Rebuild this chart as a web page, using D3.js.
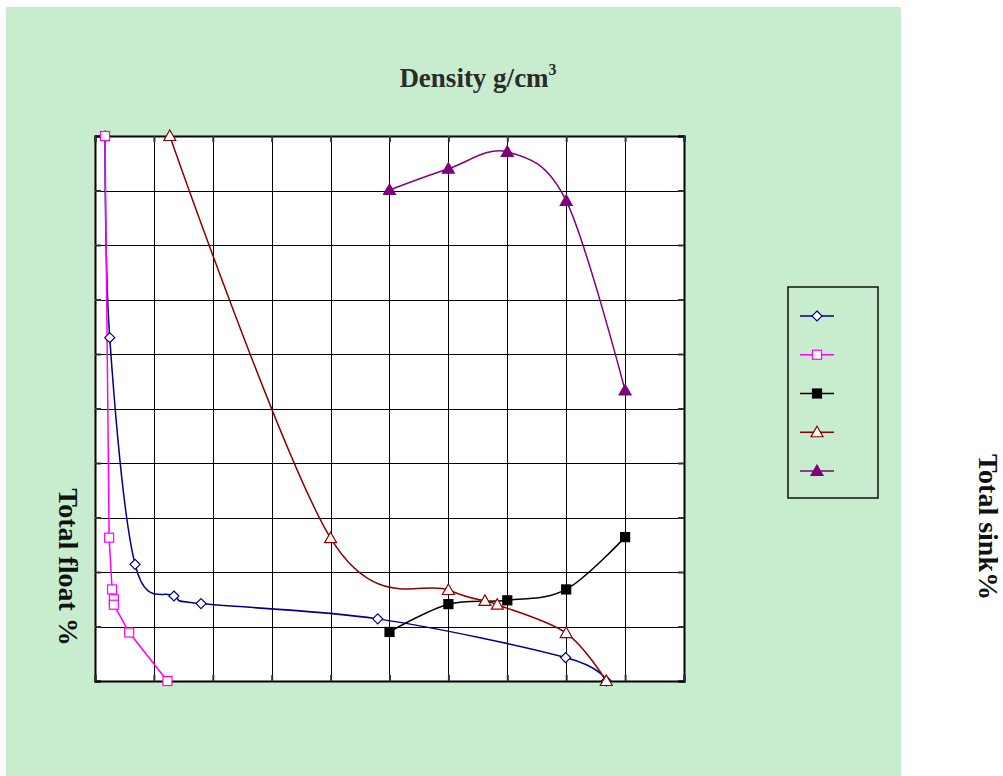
<!DOCTYPE html>
<html>
<head>
<meta charset="utf-8">
<script src="https://cdn.jsdelivr.net/npm/d3@7/dist/d3.min.js"></script>
<style>
  html, body { margin: 0; padding: 0; background: #ffffff; }
  svg { display: block; }
</style>
</head>
<body>
<svg id="chart" width="1003" height="776"></svg>
<script>
// Washability curves: cumulative float / sink vs. relative density
const seriesNames = ["Series 1", "Series 2", "Series 3", "Series 4", "Series 5"];

const s1Density = [1.217, 1.225, 1.268, 1.334, 1.380, 1.680, 1.999, 2.068];
const s1Value   = [100, 63.0, 21.4, 15.6, 14.2, 11.4, 4.3, 0];

const s2Density = [1.217, 1.224, 1.229, 1.232, 1.232, 1.258, 1.323];
const s2Value   = [100, 26.3, 16.8, 15.0, 14.0, 8.9, 0];

const s3Density = [1.70, 1.80, 1.90, 2.00, 2.10];
const s3Value   = [9.0, 14.1, 14.8, 16.8, 26.4];

const s4Density = [1.327, 1.60, 1.80, 1.862, 1.883, 2.00, 2.068];
const s4Value   = [100, 26.2, 16.7, 14.7, 14.0, 8.8, 0];

const s5Density = [1.70, 1.80, 1.90, 2.00, 2.10];
const s5Value   = [90.1, 94.0, 97.1, 88.1, 53.3];

const xTicks = [1.2, 1.3, 1.4, 1.5, 1.6, 1.7, 1.8, 1.9, 2.0, 2.1, 2.2];
const yTicks = [0, 10, 20, 30, 40, 50, 60, 70, 80, 90, 100];

const series = [
  { name: seriesNames[0], x: s1Density, y: s1Value, color: "#00008b", marker: "diamond",  fill: "#ffffff", smooth: true },
  { name: seriesNames[1], x: s2Density, y: s2Value, color: "#ff00ff", marker: "square",   fill: "#ffffff", smooth: false },
  { name: seriesNames[2], x: s3Density, y: s3Value, color: "#000000", marker: "square",   fill: "#000000", smooth: true },
  { name: seriesNames[3], x: s4Density, y: s4Value, color: "#8b0000", marker: "triangle", fill: "#ffffff", smooth: true },
  { name: seriesNames[4], x: s5Density, y: s5Value, color: "#800080", marker: "triangle", fill: "#800080", smooth: true }
];

const svg = d3.select("#chart");

// page panel
svg.append("rect").attr("x", 6).attr("y", 7).attr("width", 895).attr("height", 769)
  .attr("fill", "#c8ecce");

const plot = { left: 95, top: 136, right: 684, bottom: 681 };

const x = d3.scaleLinear().domain([1.2, 2.2]).range([plot.left, plot.right]);
const y = d3.scaleLinear().domain([0, 100]).range([plot.bottom, plot.top]);

// plot background
svg.append("rect")
  .attr("x", plot.left).attr("y", plot.top)
  .attr("width", plot.right - plot.left).attr("height", plot.bottom - plot.top)
  .attr("fill", "#ffffff");

// grid lines
const grid = svg.append("g").attr("stroke", "#000").attr("stroke-width", 1.2).attr("shape-rendering", "crispEdges");
grid.selectAll("line.v").data(xTicks).join("line")
  .attr("x1", d => Math.round(x(d)) + 0.5).attr("x2", d => Math.round(x(d)) + 0.5)
  .attr("y1", plot.top).attr("y2", plot.bottom);
grid.selectAll("line.h").data(yTicks).join("line")
  .attr("y1", d => Math.round(y(d)) + 0.5).attr("y2", d => Math.round(y(d)) + 0.5)
  .attr("x1", plot.left).attr("x2", plot.right);

// axes with short inward ticks, labels suppressed
const axisLeft = d3.axisLeft(y).tickValues(yTicks).tickSize(-6).tickFormat("");
const axisRight = d3.axisRight(y).tickValues(yTicks).tickSize(-6).tickFormat("");
const axisBottom = d3.axisBottom(x).tickValues(xTicks).tickSize(-6).tickFormat("");
const axisTop = d3.axisTop(x).tickValues(xTicks).tickSize(-6).tickFormat("");
[[axisLeft, `translate(${plot.left},0)`], [axisRight, `translate(${plot.right},0)`],
 [axisBottom, `translate(0,${plot.bottom})`], [axisTop, `translate(0,${plot.top})`]].forEach(([ax, tr]) => {
  const g = svg.append("g").attr("transform", tr).call(ax);
  g.selectAll("path.domain").attr("stroke", "#000").attr("stroke-width", 2);
  g.selectAll(".tick line").attr("stroke", "#333").attr("stroke-width", 2);
});

// series lines (uniform Catmull-Rom, like spreadsheet smoothed lines)
series.forEach(s => {
  const pts = s.x.map((d, i) => [d, s.y[i]]);
  const line = d3.line()
    .x(d => x(d[0])).y(d => y(d[1]))
    .curve(s.smooth ? d3.curveCatmullRom.alpha(0) : d3.curveLinear);
  svg.append("path").datum(pts)
    .attr("d", line)
    .attr("fill", "none")
    .attr("stroke", s.color)
    .attr("stroke-width", 1.5);
});

// marker drawing helper
function drawMarker(g, type, cx, cy, color, fill) {
  if (type === "diamond") {
    g.append("path").attr("d", `M${cx},${cy - 5}L${cx + 5},${cy}L${cx},${cy + 5}L${cx - 5},${cy}Z`)
      .attr("fill", fill).attr("stroke", color).attr("stroke-width", 1.2);
  } else if (type === "square") {
    g.append("rect").attr("x", cx - 4.5).attr("y", cy - 4.5).attr("width", 9).attr("height", 9)
      .attr("fill", fill).attr("stroke", color).attr("stroke-width", 1.2);
  } else if (type === "triangle") {
    g.append("path").attr("d", `M${cx},${cy - 6}L${cx + 6},${cy + 4.5}L${cx - 6},${cy + 4.5}Z`)
      .attr("fill", fill).attr("stroke", color).attr("stroke-width", 1.2);
  }
}

const markers = svg.append("g");
series.forEach(s => {
  s.x.forEach((d, i) => drawMarker(markers, s.marker, x(d), y(s.y[i]), s.color, s.fill));
});

// legend
const legend = svg.append("g");
legend.append("rect").attr("x", 788).attr("y", 287).attr("width", 90).attr("height", 211)
  .attr("fill", "#c8ecce").attr("stroke", "#111").attr("stroke-width", 1.5);
const legendY = d3.scalePoint().domain(seriesNames).range([316, 471]);
series.forEach(s => {
  const ly = legendY(s.name);
  legend.append("line").attr("x1", 800).attr("x2", 834).attr("y1", ly).attr("y2", ly)
    .attr("stroke", s.color).attr("stroke-width", 1.5);
  drawMarker(legend, s.marker, 817, ly, s.color, s.fill);
});

// titles
const title = svg.append("text")
  .attr("x", 478).attr("y", 87)
  .attr("text-anchor", "middle")
  .attr("font-family", "'Liberation Serif', 'Times New Roman', serif")
  .attr("font-weight", "bold").attr("font-size", 27).attr("fill", "#2b2b2b");
title.append("tspan").text("Density g/cm");
title.append("tspan").attr("dy", -12).attr("font-size", 16).text("3");

svg.append("text")
  .attr("transform", "translate(59,567) rotate(90)")
  .attr("text-anchor", "middle")
  .attr("font-family", "'Liberation Serif', 'Times New Roman', serif")
  .attr("font-weight", "bold").attr("font-size", 28).attr("fill", "#111")
  .text("Total float %");

svg.append("text")
  .attr("transform", "translate(979,527) rotate(90)")
  .attr("text-anchor", "middle")
  .attr("font-family", "'Liberation Serif', 'Times New Roman', serif")
  .attr("font-weight", "bold").attr("font-size", 28).attr("fill", "#111")
  .text("Total sink%");
</script>
</body>
</html>
